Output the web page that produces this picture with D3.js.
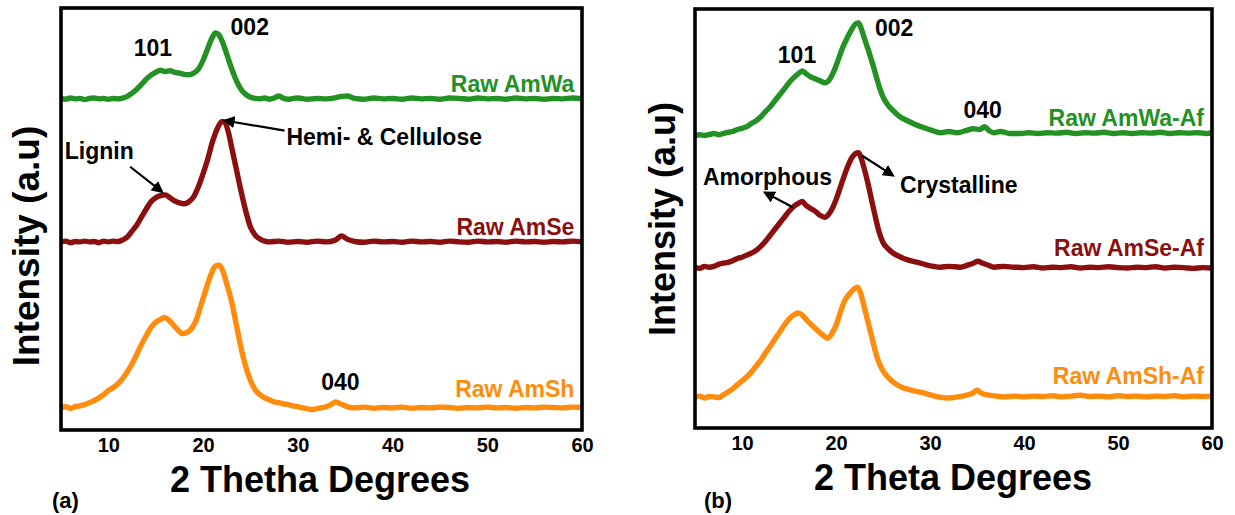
<!DOCTYPE html>
<html>
<head>
<meta charset="utf-8">
<script src="https://cdn.jsdelivr.net/npm/d3@7"></script>
<style>
  html, body { margin: 0; padding: 0; background: #fff; }
  svg { display: block; }
  text { font-family: "Liberation Sans", Arial, sans-serif; font-weight: bold; }
</style>
</head>
<body>
<svg id="chart" width="1235" height="515"></svg>
<script>
// 2θ tick labels shared by both panels
const xTicks = [10, 20, 30, 40, 50, 60];
const xDomain = [5, 60];
const yDomain = [0, 105];

// Panel (a): raw fibres, [2θ (deg), intensity (a.u., stacked)]
const rawAmWa = [[5,82.5],[5.5,82.3],[6,82.6],[6.5,82.4],[7,82.5],[7.5,82.2],[8,82.5],[8.5,82.6],[9,82.4],[9.5,82.5],[10,82.3],[10.5,82.5],[11,82.4],[11.5,82.6],[12,83.0],[12.5,83.8],[13,84.8],[13.5,86.0],[14,87.3],[14.5,88.3],[15,89.0],[15.5,89.5],[16,89.2],[16.5,89.4],[17,89.0],[17.5,88.8],[18,88.5],[18.5,88.4],[19,88.8],[19.5,89.8],[20,92.0],[20.5,95.0],[21,97.8],[21.3,98.8],[21.6,98.5],[22,96.8],[22.5,93.5],[23,90.0],[23.5,87.0],[24,84.8],[24.5,83.5],[25,82.8],[25.5,82.5],[26,82.4],[26.5,82.6],[27,82.3],[27.5,82.6],[28,83.1],[28.5,82.5],[29,82.3],[29.5,82.5],[30,82.6],[31,82.3],[32,82.5],[33,82.4],[34,82.7],[34.6,83.0],[35.2,83.1],[36,82.5],[37,82.3],[38,82.6],[39,82.4],[40,82.5],[41,82.3],[42,82.6],[43,82.4],[44,82.5],[45,82.3],[46,82.6],[47,82.5],[48,82.3],[49,82.6],[50,82.4],[51,82.5],[52,82.3],[53,82.6],[54,82.4],[55,82.5],[56,82.3],[57,82.5],[58,82.4],[59,82.6],[60,82.4]];

const rawAmSe = [[5,46.8],[5.5,47.0],[6,46.6],[6.5,46.9],[7,46.8],[7.5,47.0],[8,46.8],[8.5,46.9],[9,46.6],[9.5,47.0],[10,46.8],[10.5,47.0],[11,46.9],[11.5,47.3],[12,48.0],[12.5,49.5],[13,51.0],[13.5,53.0],[14,55.0],[14.5,56.8],[15,57.8],[15.5,58.3],[16,58.5],[16.5,57.8],[17,57.0],[17.5,56.5],[18,56.3],[18.5,56.8],[19,58.0],[19.5,60.5],[20,63.8],[20.5,67.5],[21,71.8],[21.5,75.0],[22,76.8],[22.3,76.5],[22.7,73.8],[23,70.5],[23.5,65.0],[24,59.5],[24.5,54.5],[25,50.5],[25.5,48.5],[26,47.5],[26.5,47.0],[27,46.8],[28,47.0],[29,46.7],[30,46.9],[31,46.7],[32,47.0],[33,46.8],[34,47.3],[34.6,48.3],[35.2,47.5],[36,46.9],[37,46.7],[38,47.0],[39,46.8],[40,46.9],[41,46.7],[42,47.0],[43,46.8],[44,46.9],[45,46.7],[46,47.0],[47,46.8],[48,46.7],[49,47.0],[50,46.8],[51,46.9],[52,46.7],[53,47.0],[54,46.8],[55,46.9],[56,46.7],[57,46.9],[58,46.8],[59,47.0],[60,46.8]];

const rawAmSh = [[5,5.5],[5.5,5.8],[6,5.4],[6.5,5.8],[7,6.0],[7.5,6.3],[8,6.8],[8.5,7.3],[9,8.0],[9.5,8.8],[10,9.8],[10.5,10.5],[11,11.5],[11.5,12.8],[12,14.5],[12.5,16.5],[13,18.8],[13.5,21.3],[14,23.5],[14.5,25.5],[15,26.8],[15.5,27.5],[15.9,28.0],[16.3,27.5],[16.8,26.3],[17.3,25.0],[17.8,24.0],[18.3,24.3],[18.8,25.3],[19.3,27.5],[19.8,31.3],[20.3,35.0],[20.8,38.5],[21.3,40.8],[21.7,41.0],[22.1,39.5],[22.5,36.3],[23,32.0],[23.5,26.3],[24,20.5],[24.5,15.8],[25,12.3],[25.5,10.0],[26,8.8],[26.5,8.0],[27,7.5],[27.5,7.0],[28,6.8],[28.5,6.5],[29,6.3],[29.5,6.0],[30,5.8],[30.5,5.5],[31,5.3],[31.5,5.1],[32,5.3],[32.5,5.5],[33,5.8],[33.5,6.3],[34,7.0],[34.5,6.5],[35,6.0],[35.5,5.6],[36,5.5],[37,5.7],[38,5.4],[39,5.6],[40,5.5],[41,5.7],[42,5.4],[43,5.6],[44,5.5],[45,5.7],[46,5.6],[47,5.4],[48,5.6],[49,5.5],[50,5.7],[51,5.5],[52,5.6],[53,5.4],[54,5.6],[55,5.5],[56,5.7],[57,5.6],[58,5.5],[59,5.7],[60,5.6]];

// Panel (b): alkali-treated fibres
const rawAmWaAf = [[5,73.3],[5.5,73.5],[6,73.3],[6.5,73.5],[7,73.8],[7.5,73.5],[8,73.8],[8.5,74.1],[9,74.3],[9.5,74.8],[10,75.1],[10.5,75.5],[11,76.3],[11.5,77.0],[12,78.0],[12.5,79.3],[13,80.5],[13.5,82.0],[14,83.5],[14.5,85.0],[15,86.5],[15.5,87.8],[16,88.8],[16.4,89.5],[16.8,88.8],[17.3,88.0],[17.8,87.5],[18.3,87.0],[18.8,86.5],[19.2,87.0],[19.7,89.0],[20.2,92.0],[20.7,95.3],[21.2,97.8],[21.7,100.0],[22.1,101.3],[22.4,101.5],[22.7,100.0],[23,97.8],[23.4,95.0],[23.8,92.0],[24.2,88.8],[24.6,85.5],[25,83.0],[25.5,81.0],[26.1,79.5],[26.8,78.0],[27.6,77.0],[28.5,76.0],[29.3,75.3],[30.2,74.6],[31.1,74.0],[32,74.3],[32.9,74.0],[33.8,74.5],[34.6,75.0],[35.3,74.8],[35.8,75.5],[36.3,74.5],[36.8,74.0],[37.5,74.3],[38.5,73.8],[39.6,73.8],[40.5,74.0],[41.5,73.8],[42.5,74.0],[43.5,73.9],[44.5,74.1],[45.5,73.8],[46.5,74.0],[47.5,73.9],[48.5,74.1],[49.5,73.8],[50.5,74.0],[51.5,73.8],[52.5,74.0],[53.5,73.9],[54.5,74.1],[55.5,73.8],[56.5,74.0],[57.5,73.9],[58.5,74.0],[59.5,73.8],[60,74.0]];

const rawAmSeAf = [[5,40.3],[5.5,40.0],[6,40.5],[6.5,40.3],[7,40.5],[7.5,41.0],[8,41.3],[8.5,41.5],[9,41.9],[9.5,42.5],[10,42.8],[10.5,43.3],[11,43.8],[11.5,44.5],[12,45.5],[12.5,46.8],[13,48.3],[13.5,49.8],[14,51.3],[14.5,52.8],[15,54.3],[15.5,55.5],[16,56.3],[16.4,56.8],[16.8,55.8],[17.3,55.0],[17.8,54.3],[18.3,53.3],[18.8,52.8],[19.2,53.5],[19.7,55.5],[20.2,58.5],[20.7,62.0],[21.2,65.3],[21.7,67.8],[22.1,68.8],[22.4,69.0],[22.7,67.5],[23,65.0],[23.4,61.3],[23.8,57.0],[24.2,52.8],[24.6,49.0],[25,46.5],[25.5,45.0],[26.1,43.8],[26.9,42.8],[27.8,42.0],[28.7,41.5],[29.6,40.9],[30.4,40.5],[31.1,40.3],[32,40.5],[33.2,40.3],[34,40.8],[34.6,41.3],[35.1,41.8],[35.6,41.3],[36.2,40.8],[36.8,40.3],[37.8,40.5],[39,40.3],[40,40.2],[41,40.4],[42,40.1],[43,40.3],[44,40.2],[45,40.4],[46,40.1],[47,40.3],[48,40.2],[49,40.4],[50,40.2],[51,40.1],[52,40.3],[53,40.2],[54,40.4],[55,40.1],[56,40.3],[57,40.2],[58,40.0],[59,40.2],[60,40.1]];

const rawAmShAf = [[5,7.8],[5.5,8.0],[6,7.5],[6.5,7.9],[7,7.8],[7.5,7.6],[8,8.3],[8.5,9.0],[9,9.8],[9.5,10.8],[10,11.8],[10.5,12.8],[11,14.0],[11.5,15.5],[12,17.0],[12.5,18.8],[13,20.5],[13.5,22.3],[14,24.0],[14.5,25.8],[15,27.3],[15.5,28.3],[16,28.8],[16.4,28.3],[16.9,27.0],[17.4,25.8],[18,24.5],[18.6,23.3],[19.1,22.5],[19.6,23.8],[20.1,26.3],[20.5,29.3],[20.9,31.8],[21.5,33.8],[22,35.0],[22.3,35.3],[22.6,34.0],[22.9,31.3],[23.3,27.5],[23.7,23.8],[24.1,20.0],[24.5,16.8],[25,14.3],[25.5,12.8],[26.2,11.3],[26.9,10.3],[28,9.5],[29.3,8.8],[30.5,8.0],[31.8,7.5],[33,7.8],[34,8.3],[34.6,8.8],[35,9.5],[35.4,8.8],[36.1,8.3],[37,8.0],[38,7.8],[39,8.0],[40,7.8],[41,8.0],[42,7.9],[43,8.1],[44,7.8],[45,8.0],[46,8.2],[47,7.9],[48,8.0],[49,7.8],[50,8.1],[51,7.9],[52,8.0],[53,7.8],[54,8.0],[55,7.9],[56,8.1],[57,7.8],[58,8.0],[59,7.9],[60,8.0]];

// Series colours
const seriesColors = { wa: "#239123", se: "#8c0f0f", sh: "#ff8c0c" };

// Annotations in data coordinates: [text, 2θ, intensity, anchor, colour key]
const notesA = [
  ["101", 14.7, 93.0, "middle", "k"],
  ["002", 22.9, 98.3, "start", "k"],
  ["Raw AmWa", 59.2, 84.0, "end", "wa"],
  ["Lignin", 5.4, 67.5, "start", "k"],
  ["Hemi- & Cellulose", 28.8, 70.8, "start", "k"],
  ["Raw AmSe", 59.2, 48.5, "end", "se"],
  ["040", 34.5, 10.0, "middle", "k"],
  ["Raw AmSh", 59.2, 8.3, "end", "sh"]
];
const notesB = [
  ["101", 15.85, 91.5, "middle", "k"],
  ["002", 24.15, 98.3, "start", "k"],
  ["040", 35.6, 77.8, "middle", "k"],
  ["Raw AmWa-Af", 59.15, 75.8, "end", "wa"],
  ["Amorphous", 5.85, 60.8, "start", "k"],
  ["Crystalline", 26.8, 59.0, "start", "k"],
  ["Raw AmSe-Af", 59.15, 43.0, "end", "se"],
  ["Raw AmSh-Af", 59.15, 11.0, "end", "sh"]
];
// Arrows: [from 2θ, from I, to 2θ, to I]
const arrowsA = [[12.3, 65.5, 15.65, 59.3], [28.6, 74.5, 22.3, 77.0]];
const arrowsB = [[15.4, 55.3, 12.45, 59.0], [22.75, 68.3, 26.05, 63.3]];

const svg = d3.select("#chart");
svg.append("rect").attr("width", 1235).attr("height", 515).attr("fill", "#fff");

const defs = svg.append("defs");
defs.append("marker")
  .attr("id", "arrowhead")
  .attr("viewBox", "0 0 10 10")
  .attr("refX", 8).attr("refY", 5)
  .attr("markerWidth", 5.5).attr("markerHeight", 5.5)
  .attr("orient", "auto-start-reverse")
  .append("path").attr("d", "M0,0 L10,5 L0,10 Z").attr("fill", "#000");

function drawPanel(cfg) {
  const x = d3.scaleLinear().domain(xDomain).range([cfg.left, cfg.right]);
  const y = d3.scaleLinear().domain(yDomain).range([cfg.bottom, cfg.top]);
  const g = svg.append("g");

  const clipId = "clip-" + cfg.id;
  defs.append("clipPath").attr("id", clipId)
    .append("rect")
    .attr("x", cfg.left).attr("y", cfg.top)
    .attr("width", cfg.right - cfg.left).attr("height", cfg.bottom - cfg.top);

  const line = d3.line()
    .x(d => x(d[0])).y(d => y(d[1]))
    .curve(d3.curveMonotoneX);

  g.append("g").attr("clip-path", `url(#${clipId})`)
    .selectAll("path.trace")
    .data(cfg.series)
    .join("path")
    .attr("class", "trace")
    .attr("d", d => line(d.values))
    .attr("fill", "none")
    .attr("stroke", d => seriesColors[d.key])
    .attr("stroke-width", 5.4)
    .attr("stroke-linejoin", "round")
    .attr("stroke-linecap", "round");

  // Frame
  g.append("rect")
    .attr("x", cfg.left).attr("y", cfg.top)
    .attr("width", cfg.right - cfg.left).attr("height", cfg.bottom - cfg.top)
    .attr("fill", "none").attr("stroke", "#000").attr("stroke-width", 3.6);

  // Bottom axis: labels only
  const axis = d3.axisBottom(x).tickValues(xTicks).tickSize(0).tickPadding(8)
    .tickFormat(d3.format("d"));
  const ax = g.append("g").attr("transform", `translate(0,${cfg.bottom})`).call(axis);
  ax.select(".domain").remove();
  ax.selectAll("text")
    .attr("font-size", 20).attr("font-weight", "bold")
    .attr("font-family", "'Liberation Sans', Arial, sans-serif")
    .attr("fill", "#000");

  // Axis titles
  g.append("text")
    .attr("x", cfg.xTitleX).attr("y", cfg.xTitleY)
    .attr("text-anchor", "middle")
    .attr("font-size", 36)
    .text(cfg.xTitle);
  g.append("text")
    .attr("transform", `translate(${cfg.yTitleX},${cfg.yTitleY}) rotate(-90)`)
    .attr("text-anchor", "middle")
    .attr("font-size", cfg.yTitleSize)
    .text("Intensity (a.u)");

  // Panel tag
  g.append("text")
    .attr("x", cfg.tagX).attr("y", 508)
    .attr("font-family", "'Open Sans', sans-serif")
    .attr("font-size", 22)
    .text(cfg.tag);

  // Peak and series labels
  g.selectAll("text.note")
    .data(cfg.notes)
    .join("text")
    .attr("class", "note")
    .attr("x", d => x(d[1])).attr("y", d => y(d[2]))
    .attr("text-anchor", d => d[3])
    .attr("font-size", 23)
    .attr("fill", d => d[4] === "k" ? "#000" : seriesColors[d[4]])
    .text(d => d[0]);

  // Arrows
  g.selectAll("line.arrow")
    .data(cfg.arrows)
    .join("line")
    .attr("class", "arrow")
    .attr("x1", d => x(d[0])).attr("y1", d => y(d[1]))
    .attr("x2", d => x(d[2])).attr("y2", d => y(d[3]))
    .attr("stroke", "#000").attr("stroke-width", 2.2)
    .attr("marker-end", "url(#arrowhead)");
}

drawPanel({
  id: "a", left: 61, right: 582, top: 8, bottom: 430,
  series: [
    { key: "wa", values: rawAmWa },
    { key: "se", values: rawAmSe },
    { key: "sh", values: rawAmSh }
  ],
  notes: notesA, arrows: arrowsA,
  xTitle: "2 Thetha Degrees", xTitleX: 320, xTitleY: 492,
  yTitleX: 39, yTitleY: 246, yTitleSize: 37,
  tag: "(a)", tagX: 52
});

drawPanel({
  id: "b", left: 695, right: 1212, top: 9, bottom: 428,
  series: [
    { key: "wa", values: rawAmWaAf },
    { key: "se", values: rawAmSeAf },
    { key: "sh", values: rawAmShAf }
  ],
  notes: notesB, arrows: arrowsB,
  xTitle: "2 Theta Degrees", xTitleX: 953, xTitleY: 490,
  yTitleX: 675, yTitleY: 219, yTitleSize: 36,
  tag: "(b)", tagX: 704
});
</script>
</body>
</html>
